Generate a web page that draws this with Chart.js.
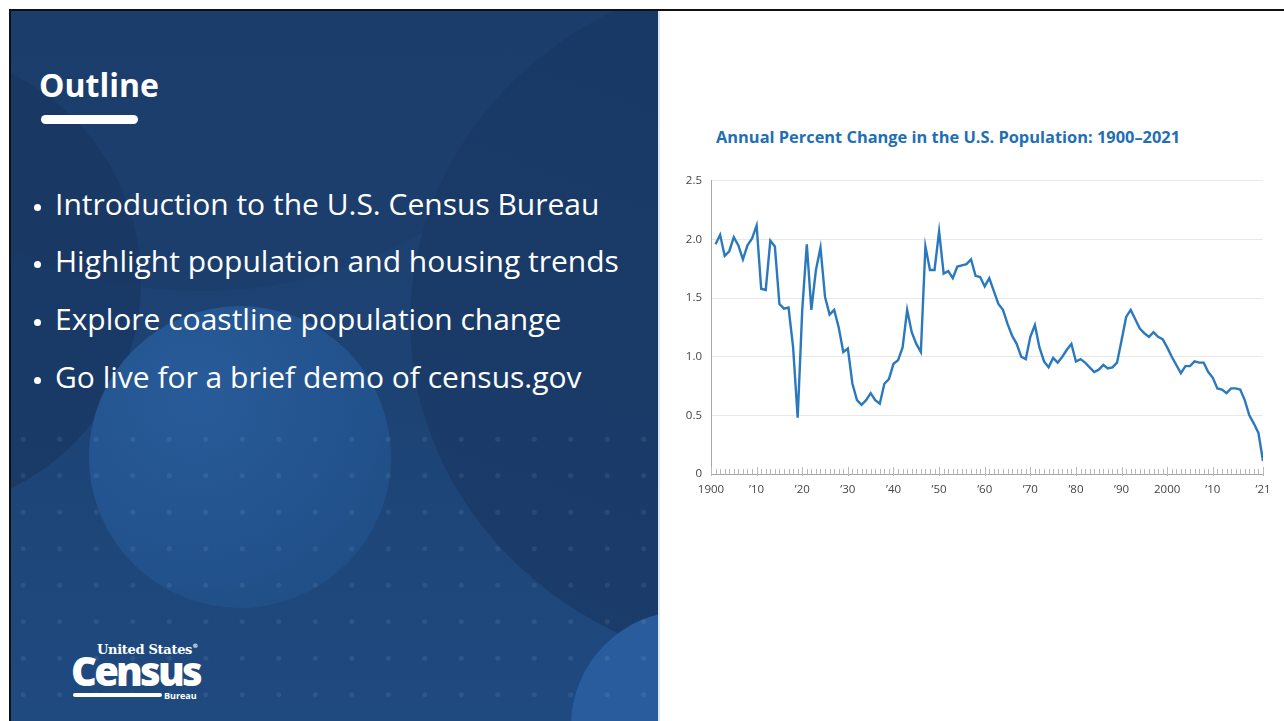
<!DOCTYPE html>
<html>
<head>
<meta charset="utf-8">
<script src="https://cdn.jsdelivr.net/npm/chart.js@4.4.1/dist/chart.umd.min.js"></script>
<style>
  html,body{margin:0;padding:0;background:#fff;}
  body{width:1284px;height:721px;position:relative;overflow:hidden;font-family:"Open Sans",sans-serif;}
  .topline{position:absolute;left:9px;top:9px;width:1275px;height:2px;background:#111;}
  .leftline{position:absolute;left:9px;top:9px;width:2px;height:712px;background:#111;}
  .panel{position:absolute;left:11px;top:11px;width:647px;height:710px;overflow:hidden;
    background:linear-gradient(180deg,#1c3f6e 0%,#1d4374 55%,#1f4a80 100%);}
  .panel .shape{position:absolute;border-radius:50%;}
  .edge{position:absolute;left:658px;top:11px;width:2px;height:710px;background:#dfe6ef;}
  .dots{position:absolute;left:0;top:400px;width:647px;height:310px;
    background-image:radial-gradient(circle, rgba(255,255,255,0.07) 2.2px, transparent 2.8px);
    background-size:36.5px 36.5px;background-position:-6px 10px;}
  .outline{position:absolute;left:28px;top:52px;color:#fff;font-weight:700;font-size:32px;line-height:1.362;font-family:"Open Sans",sans-serif;}
  .bar{position:absolute;left:30px;top:104px;width:97px;height:9px;border-radius:5px;background:#fff;}
  ul{position:absolute;left:0;top:163.5px;margin:0;padding:0;list-style:none;}
  li{position:relative;color:#fff;font-size:30px;line-height:57.7px;padding-left:44px;white-space:nowrap;font-family:"Open Sans",sans-serif;}
  li::before{content:"";position:absolute;left:22.5px;top:29px;width:7px;height:7px;border-radius:50%;background:#fff;}
  .logo{position:absolute;left:72px;top:642px;color:#fff;width:140px;height:62px;}
  .logo .us{position:absolute;left:25px;top:0;font-family:"DejaVu Serif","Liberation Serif",serif;font-weight:700;font-size:13px;letter-spacing:-0.3px;white-space:nowrap;}
  .logo .us sup{font-size:6px;vertical-align:6px;}
  .logo .cen{position:absolute;left:-1px;top:5px;font-family:"Open Sans",sans-serif;font-weight:800;font-size:40px;letter-spacing:-2.8px;line-height:1.2;}
  .logo .ln{position:absolute;left:1px;top:51px;width:89px;height:4px;border-radius:2px;background:#fff;}
  .logo .bu{position:absolute;left:92px;top:47px;font-family:"Open Sans",sans-serif;font-weight:700;font-size:9px;white-space:nowrap;}
  .ctitle{position:absolute;left:716px;top:125px;color:#1f6fb4;font-family:"Open Sans",sans-serif;font-weight:700;font-size:16.4px;white-space:nowrap;}
  #wrap{position:absolute;left:660px;top:165px;width:624px;height:345px;}
</style>
</head>
<body>
<div class="topline"></div>
<div class="leftline"></div>
<div class="panel">
  <div class="shape" style="left:-260px;top:-620px;width:900px;height:900px;background:#1b3c6a;opacity:0.55;"></div>
  <div class="shape" style="left:-330px;top:40px;width:460px;height:460px;background:#183661;opacity:0.7;"></div>
  <div class="shape" style="left:399px;top:-40px;width:760px;height:700px;background:linear-gradient(200deg,#183763,#1b3d6b);"></div>
  <div class="shape" style="left:78px;top:295px;width:302px;height:302px;background:radial-gradient(circle at 35% 30%,#285b99,#22528c 60%,#1f4a80 100%);"></div>
  <div class="shape" style="left:560px;top:600px;width:230px;height:230px;background:#285c9c;"></div>
  <div class="dots"></div>
  <div class="outline">Outline</div>
  <div class="bar"></div>
  <ul>
    <li>Introduction to the U.S. Census Bureau</li>
    <li>Highlight population and housing trends</li>
    <li>Explore coastline population change</li>
    <li>Go live for a brief demo of census.gov</li>
  </ul>
</div>
<div class="edge"></div>
<div class="logo" style="left:72px;top:642px;">
  <div class="us">United States<sup>®</sup></div>
  <div class="cen">Census</div>
  <div class="ln"></div>
  <div class="bu">Bureau</div>
</div>
<div class="ctitle">Annual Percent Change in the U.S. Population: 1900–2021</div>
<div id="wrap"><canvas id="c"></canvas></div>
<script>
// ---- data ----
const firstYear = 1901;
const pctChange = [
  1.96, 2.04, 1.86, 1.90, 2.02, 1.95, 1.83, 1.95, 2.01, 2.12, // 1901-1910
  1.58, 1.57, 1.99, 1.94, 1.45, 1.41, 1.42, 1.08, 0.48, 1.40, // 1911-1920
  1.96, 1.40, 1.74, 1.93, 1.51, 1.36, 1.40, 1.25, 1.04, 1.07, // 1921-1930
  0.77, 0.63, 0.59, 0.63, 0.69, 0.63, 0.60, 0.77, 0.81, 0.94, // 1931-1940
  0.97, 1.08, 1.40, 1.21, 1.11, 1.04, 1.94, 1.74, 1.74, 2.07, // 1941-1950
  1.71, 1.73, 1.67, 1.77, 1.78, 1.79, 1.83, 1.69, 1.68, 1.60, // 1951-1960
  1.67, 1.56, 1.45, 1.40, 1.28, 1.18, 1.11, 1.00, 0.98, 1.17, // 1961-1970
  1.27, 1.08, 0.96, 0.91, 0.99, 0.95, 1.00, 1.06, 1.11, 0.96, // 1971-1980
  0.98, 0.95, 0.91, 0.87, 0.89, 0.93, 0.90, 0.91, 0.95, 1.14, // 1981-1990
  1.34, 1.40, 1.32, 1.24, 1.20, 1.17, 1.21, 1.17, 1.15, 1.08, // 1991-2000
  1.00, 0.93, 0.86, 0.92, 0.92, 0.96, 0.95, 0.95, 0.87, 0.82, // 2001-2010
  0.73, 0.72, 0.69, 0.73, 0.73, 0.72, 0.63, 0.50, 0.43, 0.35, // 2011-2020
  0.11                                                        // 2021
];
const xTickValues = [1900, 1910, 1920, 1930, 1940, 1950, 1960, 1970, 1980, 1990, 2000, 2010, 2021];
const xTickLabels = ['1900', '’10', '’20', '’30', '’40', '’50', '’60', '’70', '’80', '’90', '2000', '’10', '’21'];
const yTickValues = [0, 0.5, 1.0, 1.5, 2.0, 2.5];
const yTickLabels = ['0', '0.5', '1.0', '1.5', '2.0', '2.5'];

const points = pctChange.map((v, i) => ({ x: firstYear + i, y: v }));

const minorTicks = {
  id: 'minorTicks',
  beforeDatasetsDraw(chart) {
    const xs = chart.scales.x, a = chart.chartArea, ctx = chart.ctx;
    ctx.save();
    ctx.strokeStyle = '#b9b9b9';
    ctx.lineWidth = 1;
    for (let yr = xs.min; yr <= xs.max; yr++) {
      const px = Math.round(xs.getPixelForValue(yr)) + 0.5;
      const major = xTickValues.includes(yr);
      ctx.beginPath();
      ctx.moveTo(px, a.bottom + (major ? 2 : 0));
      ctx.lineTo(px, a.bottom - (major ? 7 : 5));
      ctx.stroke();
    }
    ctx.restore();
  }
};

new Chart(document.getElementById('c'), {
  type: 'line',
  data: {
    datasets: [{
      data: points,
      borderColor: '#2a79bf',
      borderWidth: 2.4,
      pointRadius: 0,
      tension: 0,
      fill: false
    }]
  },
  options: {
    responsive: true,
    maintainAspectRatio: false,
    animation: false,
    layout: { padding: { left: 11, right: 21, top: 5, bottom: 6 } },
    plugins: { legend: { display: false }, tooltip: { enabled: false }, title: { display: false } },
    scales: {
      x: {
        type: 'linear',
        min: 1900,
        max: 2021,
        afterBuildTicks: s => { s.ticks = xTickValues.map(v => ({ value: v })); },
        afterFit: s => { s.height = 30; },
        ticks: {
          autoSkip: false, maxRotation: 0, padding: 9,
          color: '#444', font: { family: '"Open Sans", sans-serif', size: 11.5 },
          callback: (v, i) => xTickLabels[i]
        },
        grid: { display: false, drawTicks: false },
        border: { display: true, color: '#a8a8a8', width: 1 }
      },
      y: {
        min: 0,
        max: 2.5,
        afterBuildTicks: s => { s.ticks = yTickValues.map(v => ({ value: v })); },
        afterFit: s => { s.width = 40; },
        ticks: {
          padding: 9,
          color: '#444', font: { family: '"Open Sans", sans-serif', size: 11.5 },
          callback: (v, i) => yTickLabels[i]
        },
        grid: { color: '#e8e8e8', drawTicks: false },
        border: { display: true, color: '#a8a8a8', width: 1 }
      }
    }
  },
  plugins: [minorTicks]
});
</script>
</body>
</html>
